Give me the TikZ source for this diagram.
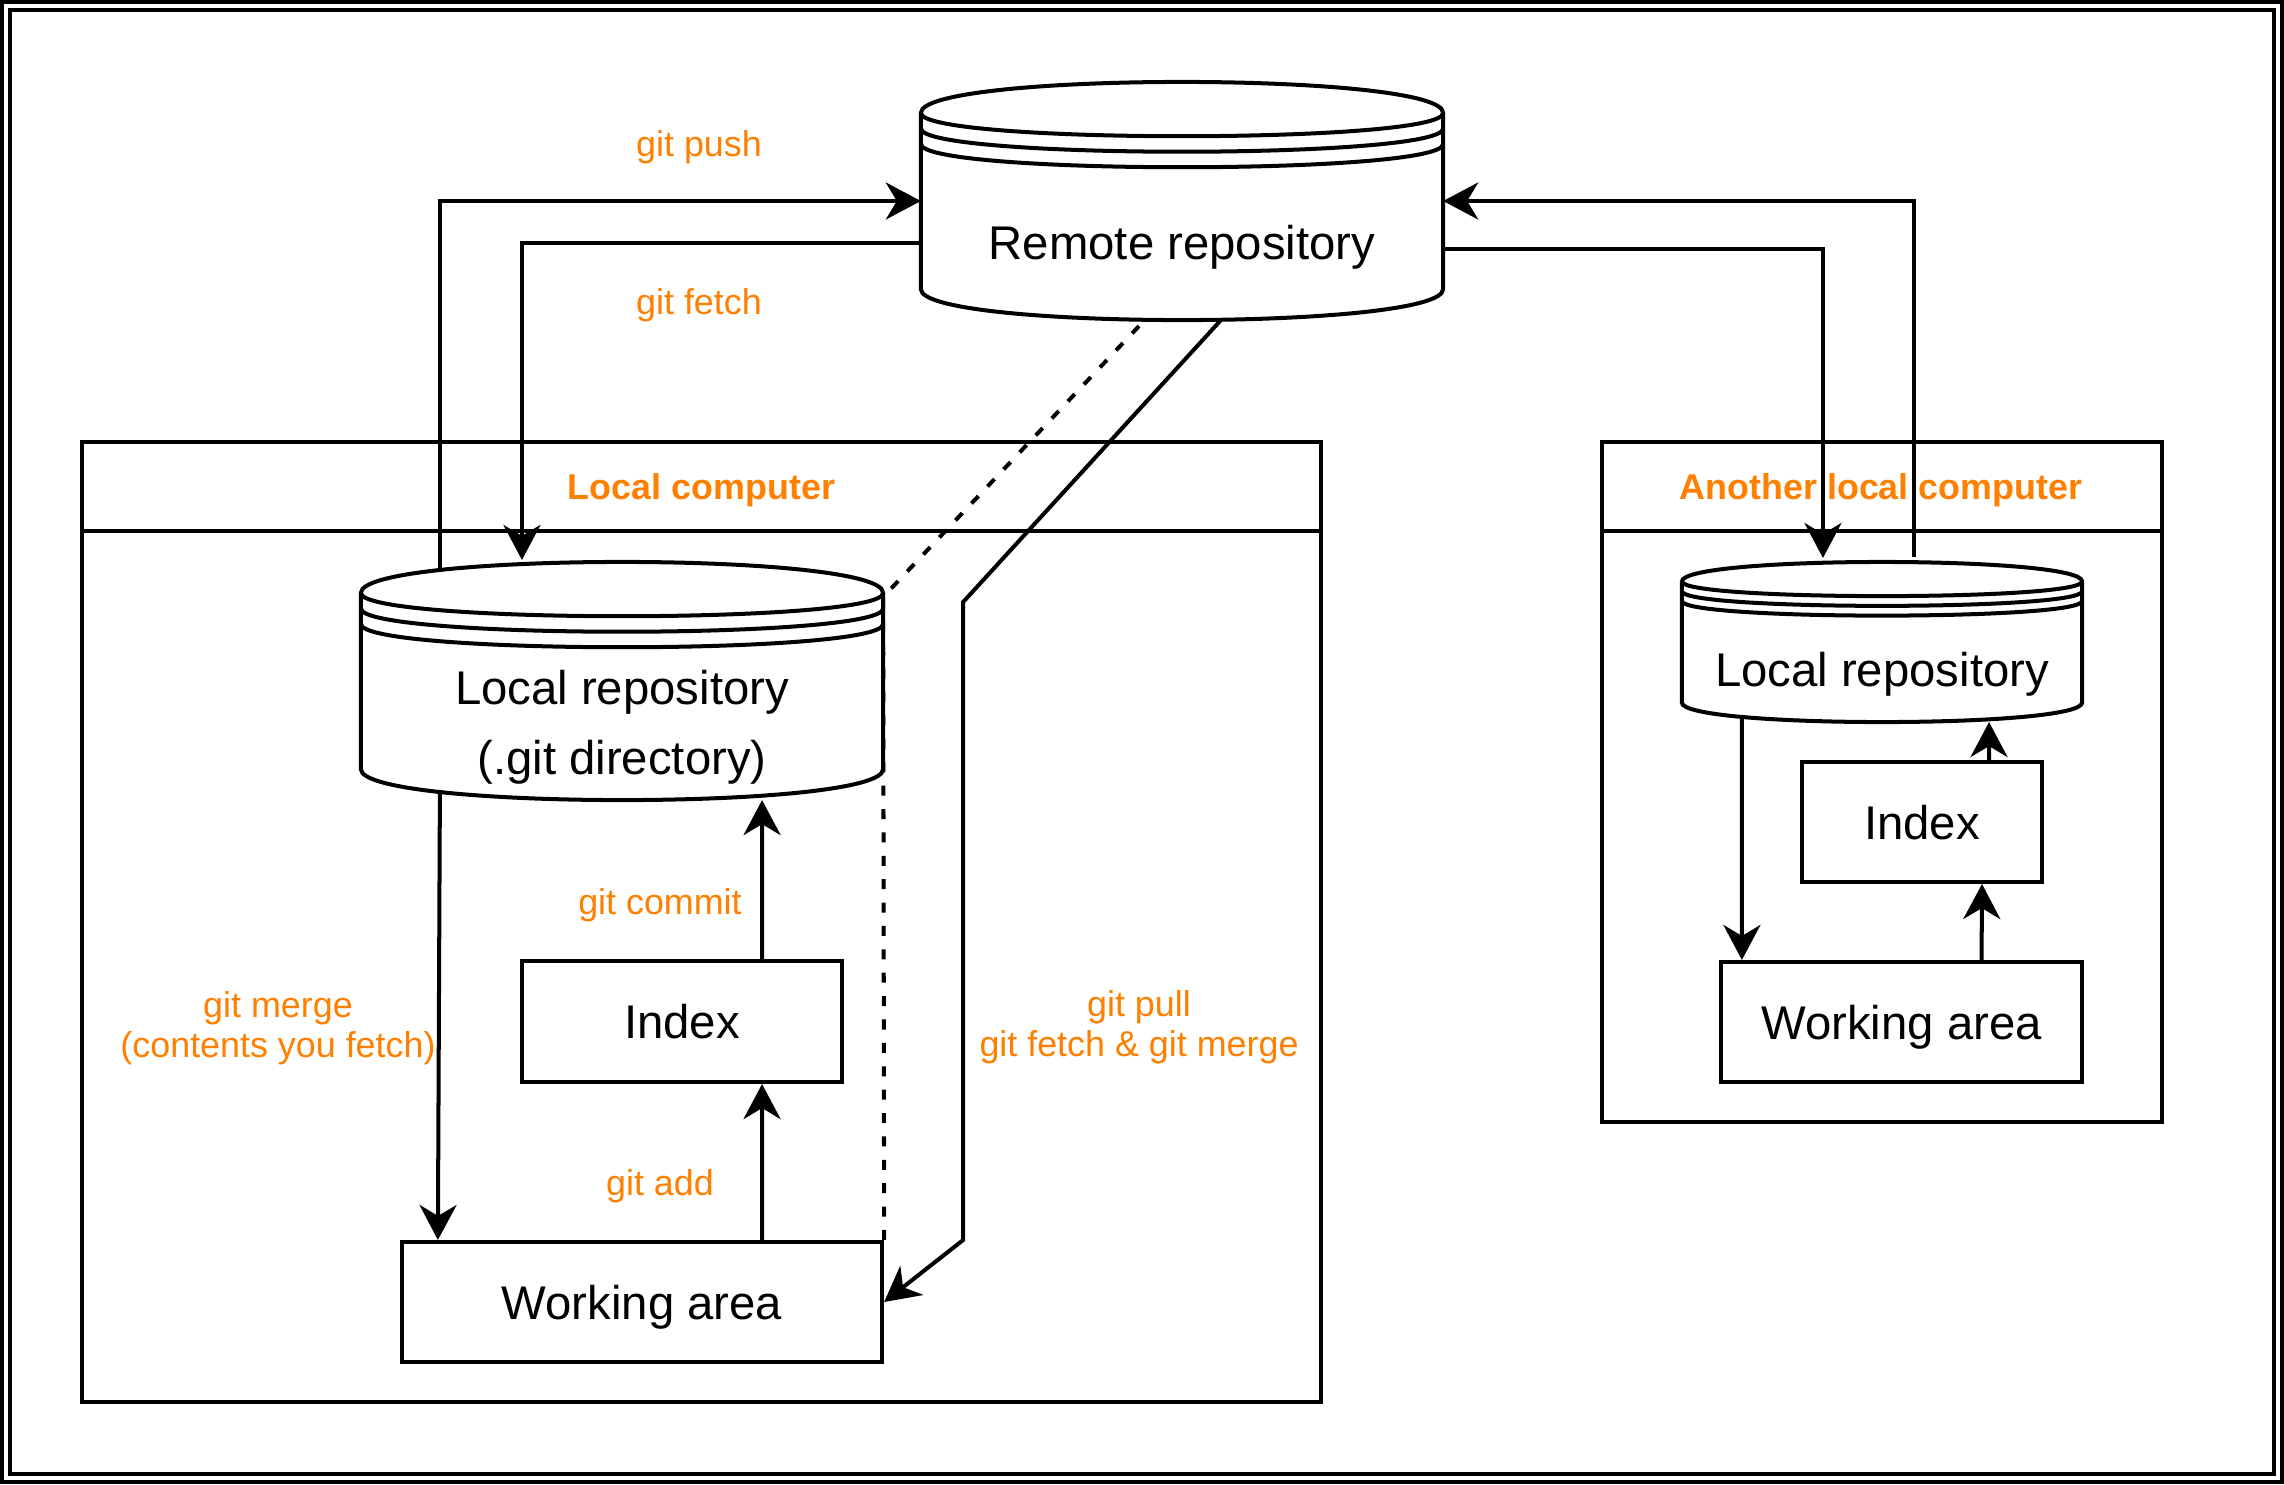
\documentclass[tikz,border=0pt]{standalone}
\usepackage{fontspec}
\setmainfont{Liberation Sans}
\usetikzlibrary{arrows.meta}
\definecolor{gitorange}{RGB}{255,128,0}
\newcommand{\boxfont}{\fontsize{13.45pt}{19.9pt}\selectfont}
\newcommand{\cmdfont}{\fontsize{10.2pt}{11.4pt}\selectfont}
% datastore outline drawn on an empty node of the same size
\newcommand{\drawstore}[2]{%
  \draw[line width=1.14pt] ([yshift=-#2*0.1mm]#1.north west)
    .. controls ([yshift=#2*0.1mm/3]#1.north west) and ([yshift=#2*0.1mm/3]#1.north east) .. ([yshift=-#2*0.1mm]#1.north east)
    -- ([yshift=#2*0.1mm]#1.south east)
    .. controls ([yshift=-#2*0.1mm/3]#1.south east) and ([yshift=-#2*0.1mm/3]#1.south west) .. ([yshift=#2*0.1mm]#1.south west)
    -- cycle;
  \foreach \ring in {0,0.5,1}
    \draw[line width=1.14pt] ([yshift=-(1+\ring)*#2*0.1mm]#1.north west)
      .. controls ([yshift=-(2+\ring)*#2*0.1mm]#1.north west) and ([yshift=-(2+\ring)*#2*0.1mm]#1.north east) .. ([yshift=-(1+\ring)*#2*0.1mm]#1.north east);
}

\begin{document}
\begin{tikzpicture}[x=0.01cm, y=-0.01cm,
box/.style={rectangle, draw, line width=1.14pt, font=\boxfont, text depth=0pt},
store/.style={rectangle, inner sep=0pt, outer sep=0pt},
storetext/.style={font=\boxfont, align=center},
group/.style={rectangle, draw, line width=1.14pt},
title/.style={font=\cmdfont\bfseries, text=gitorange},
cmd/.style={font=\cmdfont, text=gitorange, align=center},
arrow/.style={-{Stealth[length=3.5mm, width=3.7mm, inset=1.1mm]}, line width=1.14pt},
link/.style={line width=1.14pt, dash pattern=on 2.85pt off 3.8pt},
frame/.style={line width=1.14pt}
]
\useasboundingbox (0,0) rectangle (2284,1484);
% Double border round the picture
\draw[frame] (2,2) rectangle (2282,1482);
\draw[frame] (10,10) rectangle (2274,1474);
% Computer groups with their header bars
\node[group, minimum width=12.39cm, minimum height=9.6cm] (lc) at (701.5,922) {};
\draw[frame] ([yshift=-0.91cm]lc.north west) -- ([yshift=-0.91cm]lc.north east);
\node[title] (lc-title) at (701.5,490) {Local computer};
\node[group, minimum width=5.6cm, minimum height=6.8cm] (ac) at (1882,782) {};
\draw[frame] ([yshift=-0.91cm]ac.north west) -- ([yshift=-0.91cm]ac.north east);
\node[title] (ac-title) at (1881,490) {Another local computer};
% Repositories
\node[store, minimum width=5.22cm, minimum height=2.38cm] (remote) at (1182,201) {};
\drawstore{remote}{31}
\node[storetext] (remote-txt) at (1182,247) {Remote repository};
\node[store, minimum width=5.22cm, minimum height=2.38cm] (lrepo) at (622,681) {};
\drawstore{lrepo}{31}
\node[storetext] (lrepo-txt) at (622,727) {Local repository\\(.git directory)};
\node[store, minimum width=4cm, minimum height=1.6cm] (rrepo) at (1882,642) {};
\drawstore{rrepo}{19.5}
\node[storetext] (rrepo-txt) at (1882,674) {Local repository};
% Index and working area boxes
\node[box, minimum width=3.2cm, minimum height=1.21cm] (lindex) at (682,1021.5) {Index};
\node[box, minimum width=4.8cm, minimum height=1.2cm] (lwork) at (642,1302) {Working area};
\node[box, minimum width=2.4cm, minimum height=1.2cm] (rindex) at (1922,822) {Index};
\node[box, minimum width=3.61cm, minimum height=1.2cm] (rwork) at (1901.5,1022) {Working area};
% Remote connections
\draw[arrow] ([xshift=-1.82cm,yshift=-0.1cm]lrepo.north) |- (remote.west);
\draw[arrow] ([yshift=-0.42cm]remote.west) -| ([xshift=-1cm,yshift=0.02cm]lrepo.north);
\draw[arrow] ([yshift=-0.48cm]remote.east) -| ([xshift=-0.59cm,yshift=0.04cm]rrepo.north);
\draw[arrow] ([xshift=0.32cm,yshift=0.05cm]rrepo.north) |- (remote.east);
\draw[link] ([xshift=-0.43cm,yshift=-0.06cm]remote.south) -- ([yshift=-0.35cm]lrepo.north east) -- (lwork.north east);
\draw[arrow] ([xshift=0.38cm,yshift=-0.01cm]remote.south) -- ([xshift=0.8cm,yshift=-0.4cm]lrepo.north east)
  -- ([xshift=0.79cm]lwork.north east) -- (lwork.east);
% Local steps
\draw[arrow] ([xshift=-1.82cm,yshift=0.06cm]lrepo.south) -- ([xshift=-2.04cm]lwork.north);
\draw[arrow] ([xshift=0.8cm]lindex.north) -- ([xshift=1.4cm]lrepo.south);
\draw[arrow] ([xshift=1.2cm]lwork.north) -- ([xshift=0.8cm]lindex.south);
\draw[arrow] ([xshift=-1.4cm,yshift=0.04cm]rrepo.south) -- ([xshift=-1.595cm]rwork.north);
\draw[arrow] ([xshift=0.67cm]rindex.north) -- ([xshift=1.07cm]rrepo.south);
\draw[arrow] ([xshift=0.8cm]rwork.north) -- ([xshift=0.6cm]rindex.south);
% Command labels
\node[cmd] (push-lbl) at (699,147.5) {git push};
\node[cmd] (fetch-lbl) at (699,305.5) {git fetch};
\node[cmd] (commit-lbl) at (660,905) {git commit};
\node[cmd] (add-lbl) at (660,1186.5) {git add};
\node[cmd] (merge-lbl) at (278,1028) {git merge\\(contents you fetch)};
\node[cmd] (pull-lbl) at (1139,1027) {git pull\\git fetch \& git merge};
\end{tikzpicture}
\end{document}
